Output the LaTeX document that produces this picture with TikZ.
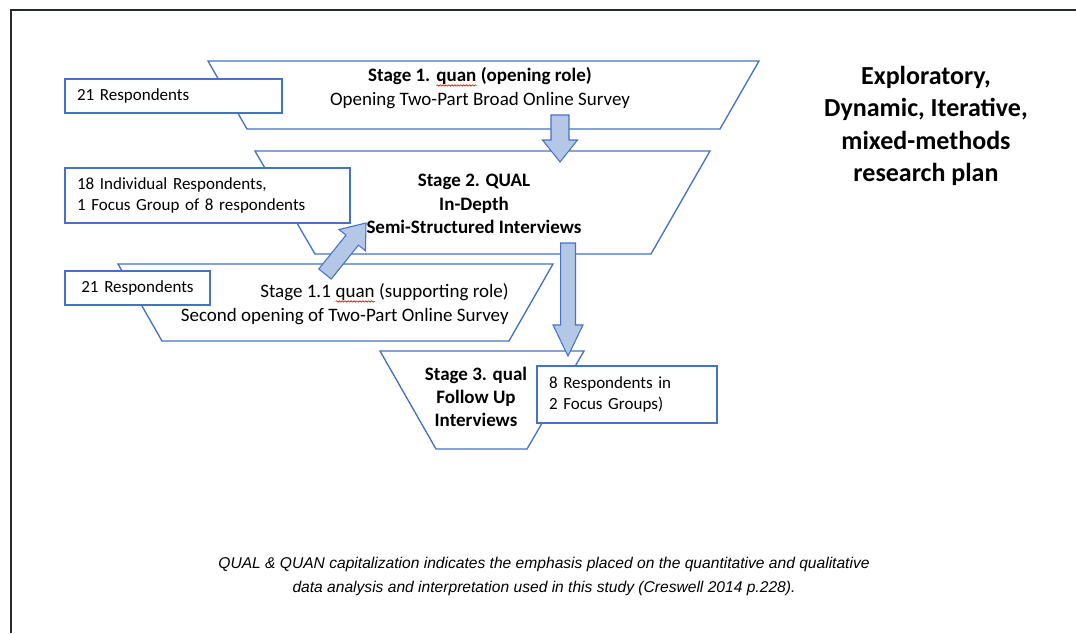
\documentclass[tikz,border=0pt]{standalone}
\usepackage{fontspec}
\setmainfont{Carlito}
\newfontfamily\notefont{Liberation Sans}
\usepackage{tikz}
\usetikzlibrary{calc, positioning, decorations.pathmorphing}
\definecolor{stageblue}{HTML}{4472C4}
\definecolor{arrowfill}{HTML}{B4C7E7}
\definecolor{framegray}{rgb}{0.15, 0.16, 0.18}

% block arrow: from, to, half shaft, half head, head length
\newcommand{\blockarrow}[5]{
	\coordinate (ba-h) at ($(#2)!#5!(#1)$);
	\draw [blockarr] ($(#1)!#3!90:(#2)$) -- ($(ba-h)!#3!90:(#2)$) -- ($(ba-h)!#4!90:(#2)$) -- (#2)
		-- ($(ba-h)!#4!-90:(#2)$) -- ($(ba-h)!#3!-90:(#2)$) -- ($(#1)!#3!-90:(#2)$) -- cycle;
}
\newcommand{\wavy}[1]{\tikz[baseline=(w.base)]{\node [inner sep=0pt, outer sep=0pt] (w) {#1};
	\draw [red, line width=0.5pt, decorate, decoration={snake, amplitude=0.5pt, segment length=2.2pt}]
		([yshift=-0.8pt]w.south west) -- ([yshift=-0.8pt]w.south east);}}

\tikzset{
	stage/.style={draw=stageblue, line width=1pt, line join=miter},
	infobox/.style={draw=stageblue, line width=1pt, fill=white, rectangle, inner xsep=9pt, inner ysep=0pt,
		font=\fontsize{12.75}{15.75}\selectfont},
	stagetext/.style={font=\fontsize{14.25}{18}\selectfont, inner sep=0pt},
	blockarr/.style={draw=stageblue, line width=0.8pt, fill=arrowfill, line join=miter},
}

\begin{document}
\begin{tikzpicture}[x=0.75pt, y=-0.75pt]
		\useasboundingbox (0,0) rectangle (1076,633);
		\draw [framegray, line width=2.2pt] (11,633) -- (11,10) -- (1076,10);

		\draw [stage] (208,61) -- (759,61) -- (720,129) -- (247,129) -- cycle;
		\draw [stage] (255,151) -- (710,151) -- (651,254) -- (315,254) -- cycle;
		\draw [stage] (118,264) -- (553,264) -- (509,341) -- (162,341) -- cycle;
		\draw [stage] (380,351) -- (584,351) -- (527,449) -- (436,449) -- cycle;

		\node [stagetext, align=center] (t1) at (480,88) {\textbf{Stage 1. \wavy{quan} (opening role)}\\Opening Two-Part Broad Online Survey};
		\node [stagetext, align=center, font=\fontsize{14.25}{17.6}\selectfont\bfseries] (t2) at (474,204) {Stage 2. QUAL\\In-Depth\\Semi-Structured Interviews};
		\node [stagetext, align=right, anchor=east] (t11) at (509,304) {Stage 1.1 \wavy{quan} (supporting role)\\Second opening of Two-Part Online Survey};
		\node [stagetext, align=center, font=\fontsize{14.25}{17.3}\selectfont\bfseries] (t3) at (476,397) {Stage 3. qual\\Follow Up\\Interviews};

		\node [infobox, text width=144.75pt, minimum height=25.5pt, align=left] (r1) at (173.5,96) {21 Respondents};
		\node [infobox, text width=195.75pt, minimum height=41.25pt, align=left] (r2) at (207.5,195.5) {18 Individual Respondents,\\1 Focus Group of 8 respondents};
		\node [infobox, text width=90.75pt, minimum height=25.5pt, align=center] (r11) at (137.5,288) {21 Respondents};
		\node [infobox, text width=117pt, minimum height=42.75pt, align=left] (r3) at (627,394.5) {8 Respondents in\\2 Focus Groups)};

		\coordinate (a1s) at (560,115);
		\coordinate (a1e) at (560,162);
		\coordinate (a2s) at (568,243);
		\coordinate (a2e) at (568,356);
		\coordinate (a3s) at (325,274);
		\coordinate (a3e) at (366,223);
		\blockarrow{a1s}{a1e}{6.75pt}{13.1pt}{16.5pt}
		\blockarrow{a2s}{a2e}{5.6pt}{11.25pt}{23.25pt}
		\blockarrow{a3s}{a3e}{6pt}{12.75pt}{16.5pt}

		\node [font=\fontsize{19.5}{24.4}\selectfont\bfseries, align=center] (plan) at (926,126) {Exploratory,\\Dynamic, Iterative,\\mixed-methods\\research plan};
		\node [font=\notefont\itshape\fontsize{11.7}{18}\selectfont, align=center] (note) at (544,576) {QUAL \& QUAN capitalization indicates the emphasis placed on the quantitative and qualitative\\data analysis and interpretation used in this study (Creswell 2014 p.228).};
	\end{tikzpicture}
\end{document}
